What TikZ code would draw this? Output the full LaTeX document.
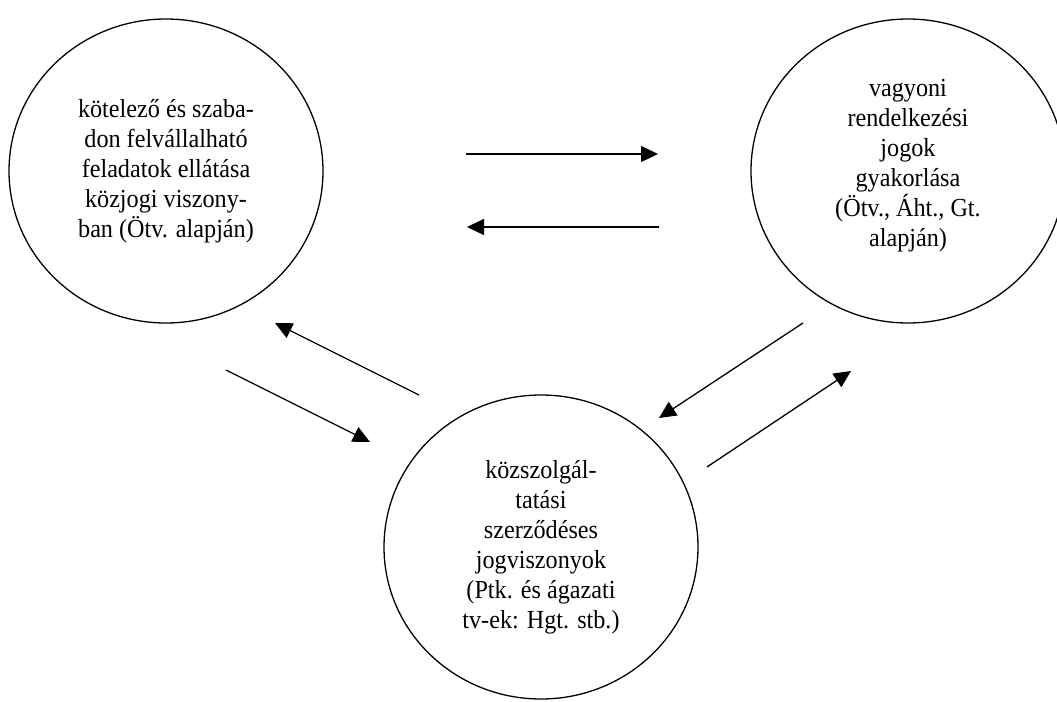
\documentclass[tikz,border=0pt]{standalone}
\usepackage{fontspec}
\setmainfont[FakeStretch=0.93]{Liberation Serif}
\usetikzlibrary{shapes.geometric,arrows.meta}

\tikzset{
    kor/.style={shape=ellipse,draw=black,line width=0.65pt,minimum width=157pt,minimum height=152pt,inner sep=0pt,align=center,font=\fontsize{13}{15}\selectfont},
    >={Triangle[length=8.5pt,width=8pt]}
}

\begin{document}
\begin{tikzpicture}[x=0.5pt,y=-0.5pt,line width=0.65pt]
    \useasboundingbox (0,0) rectangle (1057,702);
    \node[kor] (Kozjogi feladatok) at (166,171) {kötelező és szaba-\\don felvállalható\\feladatok ellátása\\közjogi viszony-\\ban (Ötv. alapján)};
    \node[kor] (Vagyoni jogok) at (908,171) {vagyoni\\rendelkezési\\jogok\\gyakorlása\\(Ötv., Áht., Gt.\\alapján)\\[-7pt]};
    \node[kor] (Kozszolgaltatas) at (541,547) {közszolgál-\\tatási\\szerződéses\\jogviszonyok\\(Ptk. és ágazati\\tv-ek: Hgt. stb.)};

    \coordinate (KF ki) at (466,154);
    \coordinate (VJ be) at (658,154);
    \coordinate (VJ ki) at (659,227);
    \coordinate (KF be) at (467,227);
    \coordinate (KSZ ki bal) at (419,395);
    \coordinate (KF be lent) at (275,323);
    \coordinate (KF ki lent) at (226,370);
    \coordinate (KSZ be bal) at (370,442);
    \coordinate (VJ ki lent) at (803,323);
    \coordinate (KSZ be jobb) at (659,418);
    \coordinate (KSZ ki jobb) at (707,467);
    \coordinate (VJ be lent) at (851,371);



    \path [->] (KF ki) edge node {} (VJ be);
    \path [->] (VJ ki) edge node {} (KF be);
    \path [->] (KSZ ki bal) edge node {} (KF be lent);
    \path [->] (KF ki lent) edge node {} (KSZ be bal);
    \path [->] (VJ ki lent) edge node {} (KSZ be jobb);
    \path [->] (KSZ ki jobb) edge node {} (VJ be lent);
\end{tikzpicture}
\end{document}
